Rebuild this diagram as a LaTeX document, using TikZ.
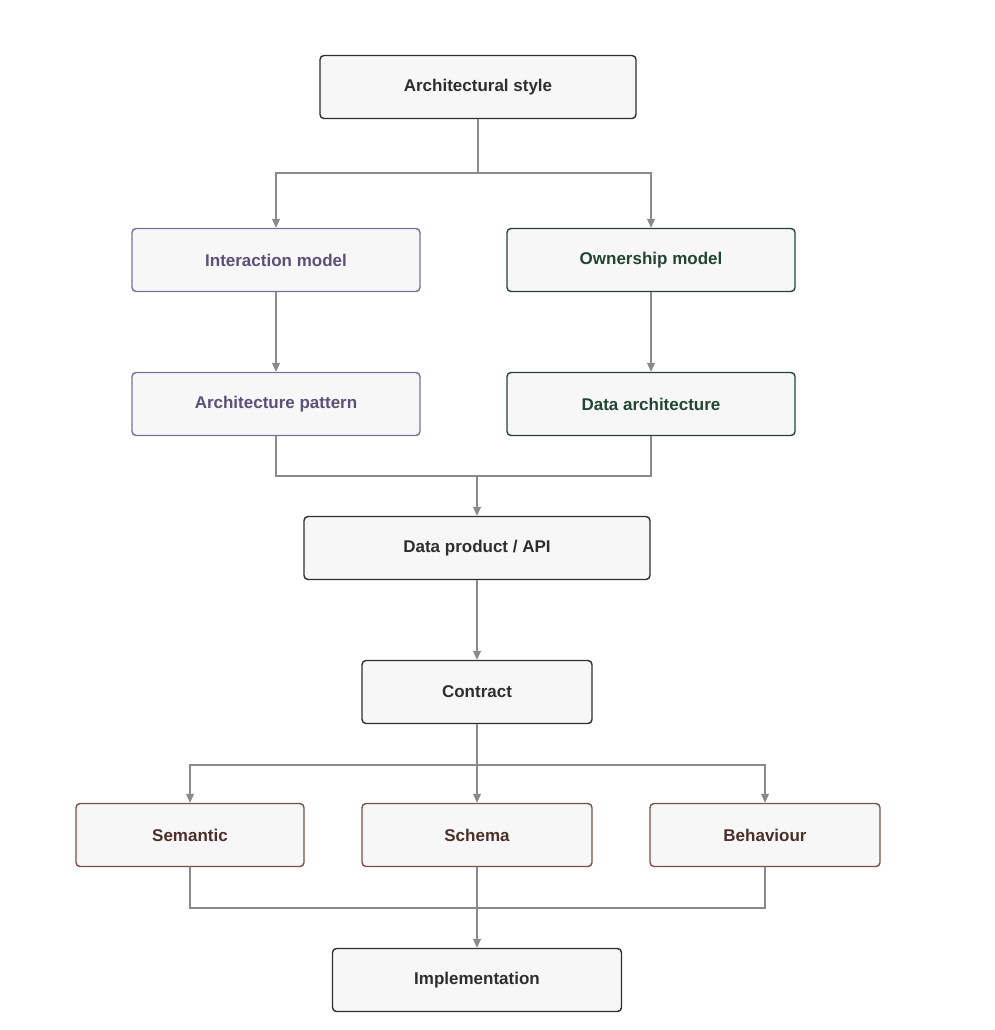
\documentclass[tikz,border=0pt]{standalone}
\usepackage{fontspec}
\setmainfont{Liberation Sans}
\usetikzlibrary{arrows.meta}
\definecolor{ink}{HTML}{2E2E2E}
\definecolor{purp}{HTML}{5A5078}
\definecolor{purpline}{HTML}{7A70A8}
\definecolor{grn}{HTML}{234536}
\definecolor{brn}{HTML}{4A3028}
\definecolor{brnline}{HTML}{7A5044}
\definecolor{wire}{HTML}{8A8A8A}

\tikzset{
  box/.style={draw=#1, line width=1.4pt, rounded corners=4pt, fill=black!3,
    font=\fontsize{17}{20}\selectfont\bfseries, inner sep=0pt},
  box/.default=ink,
  link/.style={draw=wire, line width=1.1pt, -{Triangle[length=9pt,width=8pt]}},
  wirejoin/.style={draw=wire, line width=1.1pt}
}

\begin{document}
\begin{tikzpicture}[x=1pt, y=-1pt]
    \useasboundingbox (0,0) rectangle (994,1030);

    \node[box, minimum width=316pt, minimum height=63pt, text=ink] (style) at (478,87) {Architectural style};
    \node[box=purpline, minimum width=288pt, minimum height=63pt, text=purp] (inter) at (276,260) {Interaction model};
    \node[box=grn, minimum width=288pt, minimum height=63pt, text=grn] (own) at (651,260) {Ownership model};
    \node[box=purpline, minimum width=288pt, minimum height=63pt, text=purp] (pattern) at (276,404) {Architecture pattern};
    \node[box=grn, minimum width=288pt, minimum height=63pt, text=grn] (dataarch) at (651,404) {Data architecture};
    \node[box, minimum width=346pt, minimum height=63pt, text=ink] (product) at (477,548) {Data product / API};
    \node[box, minimum width=230pt, minimum height=63pt, text=ink] (contract) at (477,692) {Contract};
    \node[box=brnline, minimum width=228pt, minimum height=63pt, text=brn] (semantic) at (190,835) {Semantic};
    \node[box=brnline, minimum width=230pt, minimum height=63pt, text=brn] (schema) at (477,835) {Schema};
    \node[box=brnline, minimum width=230pt, minimum height=63pt, text=brn] (behav) at (765,835) {Behaviour};
    \node[box, minimum width=289pt, minimum height=63pt, text=ink] (impl) at (477,980) {Implementation};

    % top split
    \coordinate (split1) at (478,173);
    \draw[wirejoin] (style.south) -- (split1);
    \draw[link] (split1) -| (inter.north);
    \draw[link] (split1) -| (own.north);

    \draw[link] (inter) -- (pattern);
    \draw[link] (own) -- (dataarch);

    % merge into product
    \coordinate (merge1) at (477,476);
    \draw[wirejoin] (pattern.south) |- (merge1);
    \draw[wirejoin] (dataarch.south) |- (merge1);
    \draw[link] (merge1) -- (product.north);

    \draw[link] (product) -- (contract);

    % contract split
    \coordinate (split2) at (477,765);
    \draw[wirejoin] (contract.south) -- (split2);
    \draw[link] (split2) -| (semantic.north);
    \draw[link] (split2) -- (schema.north);
    \draw[link] (split2) -| (behav.north);

    % merge into implementation
    \coordinate (merge2) at (477,908);
    \draw[wirejoin] (semantic.south) |- (merge2);
    \draw[wirejoin] (behav.south) |- (merge2);
    \draw[wirejoin] (schema.south) -- (merge2);
    \draw[link] (merge2) -- (impl.north);
\end{tikzpicture}
\end{document}
